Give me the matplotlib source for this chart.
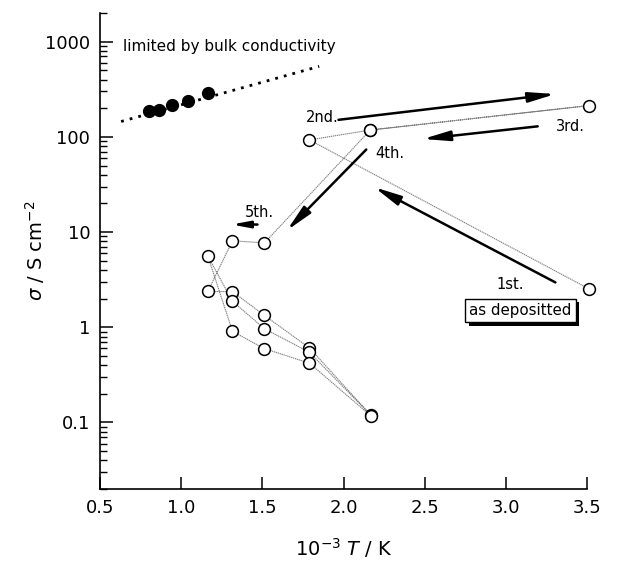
import matplotlib
matplotlib.use('Agg')
import matplotlib.pyplot as plt
import matplotlib.patheffects as pe
import numpy as np

# bulk conductivity points (filled) and the dotted fit line
bulk_x = [0.80, 0.866, 0.946, 1.044, 1.165]
bulk_y = [186, 190, 215, 239, 290]
fit_x = [0.63, 1.85]
fit_y = [145, 550]

# film measurement sequence (open circles), in measurement order
seq_x = [3.51, 1.79, 2.165, 3.51, 2.165, 1.513, 1.316, 1.164, 1.316, 1.513,
         1.79, 2.169, 1.79, 1.513, 1.316, 1.164, 1.316, 1.513, 1.79, 2.169]
seq_y = [2.54, 92.9, 118, 213, 118, 7.7, 8.1, 2.38, 2.37, 1.33,
         0.607, 0.119, 0.546, 0.966, 1.87, 5.6, 0.906, 0.596, 0.42, 0.117]

# arrows: (tail x, tail y, head x, head y)
arrows = [
    (3.305, 2.96, 2.189, 29.6),
    (1.969, 151, 3.305, 282),
    (3.196, 129, 2.489, 95),
    (2.140, 73.6, 1.651, 10.4),
    (1.47, 12.0, 1.31, 12.0),
]
arrow_scale = [20, 20, 20, 20, 13]
step_labels = ['1st.', '2nd.', '3rd.', '4th.', '5th.']
step_pos = [(3.028, 2.82), (1.869, 158), (3.398, 127), (2.288, 66.8), (1.480, 16.1)]

plt.rcParams['font.family'] = ['DejaVu Sans']
fig = plt.figure(figsize=(6.22, 5.63), dpi=100)
ax = fig.add_axes([0.1608, 0.1314, 0.783, 0.8455])

ax.plot(fit_x, fit_y, linestyle=(0, (1, 2.2)), color='black', lw=2.0)
ax.plot(bulk_x, bulk_y, 'o', color='black', ms=8.5, zorder=4)

ax.plot(seq_x, seq_y, linestyle=(0, (1.2, 0.6)), color='0.5', lw=0.8, zorder=2)
ax.plot(seq_x, seq_y, 'o', mfc='white', mec='black', mew=1.1, ms=8.5,
        linestyle='none', zorder=5, clip_on=False)

for (x0, y0, x1, y1), ms in zip(arrows, arrow_scale):
    ax.annotate('', xy=(x1, y1), xytext=(x0, y0),
                arrowprops=dict(arrowstyle='-|>,head_length=0.8,head_width=0.15',
                                color='black', lw=1.8, mutation_scale=ms,
                                shrinkA=0, shrinkB=0))

for lab, (x, y) in zip(step_labels, step_pos):
    ax.text(x, y, lab, fontsize=10.5, ha='center', va='center')

ax.text(0.642, 887, 'limited by bulk conductivity', fontsize=11,
        ha='left', va='center')

# boxed label with drop shadow
box = ax.text(3.09, 1.50, 'as depositted', fontsize=10.8, ha='center', va='center',
              bbox=dict(boxstyle='square,pad=0.28', fc='white', ec='black', lw=1))
box.get_bbox_patch().set_path_effects([
    pe.SimplePatchShadow(offset=(2.5, -2.5), shadow_rgbFace='black', alpha=1.0),
    pe.Normal()])

ax.set_xscale('linear')
ax.set_yscale('log')
ax.set_xlim(0.5, 3.5)
ax.set_ylim(0.02, 2000)
ax.set_xticks([0.5, 1.0, 1.5, 2.0, 2.5, 3.0, 3.5])
ax.set_xticklabels(['0.5', '1.0', '1.5', '2.0', '2.5', '3.0', '3.5'])
ax.set_yticks([0.1, 1, 10, 100, 1000])
ax.set_yticklabels(['0.1', '1', '10', '100', '1000'])

ax.spines['top'].set_visible(False)
ax.spines['right'].set_visible(False)
for s in ['left', 'bottom']:
    ax.spines[s].set_linewidth(1.2)
ax.tick_params(axis='both', which='major', direction='in', length=9, width=1.1,
               labelsize=13, pad=7)
ax.tick_params(axis='y', which='minor', direction='in', length=5, width=1.0)

ax.set_xlabel(r'10$^{-3}$ $T$ / K', fontsize=14, labelpad=14)
ax.set_ylabel(r'$\sigma$ / S cm$^{-2}$', fontsize=14, labelpad=-1)

fig.savefig('out.png', dpi=100)
